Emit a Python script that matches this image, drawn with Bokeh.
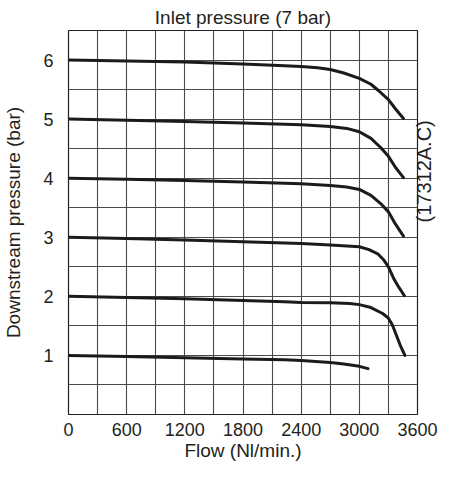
import numpy as np
from bokeh.plotting import figure
from bokeh.models import FixedTicker, Range1d, LinearAxis
from bokeh.embed import file_html
from bokeh.resources import INLINE

# Curves for inlet pressure 7 bar, set pressures 6..1 bar
flow_6 = [0, 600, 1200, 1800, 2230, 2400, 2570, 2700, 2840, 3000, 3120, 3200, 3300, 3370, 3455]
pres_6 = [6.0, 5.985, 5.965, 5.935, 5.905, 5.89, 5.87, 5.84, 5.78, 5.69, 5.59, 5.48, 5.33, 5.18, 5.01]

flow_5 = [0, 600, 1200, 1800, 2230, 2400, 2700, 2870, 3000, 3120, 3220, 3300, 3370, 3455]
pres_5 = [5.0, 4.98, 4.96, 4.935, 4.915, 4.905, 4.876, 4.843, 4.787, 4.674, 4.52, 4.37, 4.19, 4.01]

flow_4 = [0, 600, 1200, 1800, 2230, 2400, 2700, 2870, 3000, 3120, 3220, 3300, 3370, 3455]
pres_4 = [4.0, 3.98, 3.96, 3.935, 3.915, 3.905, 3.876, 3.85, 3.81, 3.71, 3.57, 3.43, 3.23, 3.02]

flow_3 = [0, 600, 1200, 1800, 2230, 2400, 2700, 3000, 3100, 3190, 3255, 3300, 3355, 3405, 3465]
pres_3 = [3.0, 2.98, 2.955, 2.925, 2.905, 2.894, 2.87, 2.84, 2.79, 2.72, 2.61, 2.5, 2.3, 2.16, 2.01]

flow_2 = [0, 600, 1200, 1800, 2230, 2400, 2700, 2900, 3000, 3120, 3240, 3300, 3340, 3380, 3420, 3470]
pres_2 = [2.0, 1.98, 1.96, 1.93, 1.908, 1.896, 1.89, 1.88, 1.86, 1.81, 1.71, 1.63, 1.52, 1.35, 1.18, 1.0]

flow_1 = [0, 600, 1200, 1800, 2230, 2400, 2700, 2840, 3000, 3090]
pres_1 = [1.0, 0.98, 0.96, 0.94, 0.927, 0.916, 0.88, 0.855, 0.815, 0.776]

curves = [(flow_6, pres_6), (flow_5, pres_5), (flow_4, pres_4),
          (flow_3, pres_3), (flow_2, pres_2), (flow_1, pres_1)]

x_ticks = [0, 600, 1200, 1800, 2400, 3000, 3600]
y_ticks = [1, 2, 3, 4, 5, 6]
x_grid = list(range(0, 3601, 300))
y_grid = [i * 0.5 for i in range(0, 14)]

title_text = "Inlet pressure (7 bar)"
x_label = "Flow (Nl/min.)"
y_label = "Downstream pressure (bar)"
side_note = "(17312A.C)"

FONT = "Liberation Sans"
TXT = "#231f20"

p = figure(width=448, height=463, output_backend="svg", toolbar_location=None,
           x_range=Range1d(0, 3600), y_range=Range1d(0, 6.5),
           min_border_left=61, min_border_right=0, min_border_top=30, min_border_bottom=40)

p.title.text = title_text
p.title.align = "center"
p.title.text_font = FONT
p.title.text_font_size = "19px"
p.title.text_font_style = "normal"
p.title.text_color = TXT
p.title.standoff = 6

p.outline_line_color = "#231f20"
p.outline_line_width = 1.2

rax = LinearAxis(ticker=FixedTicker(ticks=[]), axis_label=side_note)
p.add_layout(rax, "right")

for ax in (p.xaxis[0], p.yaxis[0], rax):
    ax.major_tick_line_color = None
    ax.minor_tick_line_color = None
    ax.axis_line_color = None
    ax.major_label_text_font = FONT
    ax.major_label_text_font_size = "18px"
    ax.major_label_text_color = TXT
    ax.axis_label_text_font = FONT
    ax.axis_label_text_font_size = "19px"
    ax.axis_label_text_font_style = "normal"
    ax.axis_label_text_color = TXT

rax.major_label_text_font_size = "0px"
rax.major_label_standoff = 0
rax.axis_label_standoff = 6
rax.axis_label_text_font_size = "20px"
if "axis_label_orientation" in LinearAxis.properties():
    rax.axis_label_orientation = np.pi / 2

p.xaxis[0].ticker = FixedTicker(ticks=x_ticks)
p.yaxis[0].ticker = FixedTicker(ticks=y_ticks)
p.xaxis[0].axis_label = x_label
p.yaxis[0].axis_label = y_label
p.xaxis[0].major_label_standoff = 2
p.yaxis[0].major_label_standoff = 9
p.xaxis[0].axis_label_standoff = 1
p.yaxis[0].axis_label_standoff = 16

p.xgrid.ticker = FixedTicker(ticks=x_grid)
p.ygrid.ticker = FixedTicker(ticks=y_grid)
for g in (p.xgrid, p.ygrid):
    g.grid_line_color = "#4a4a4a"
    g.grid_line_width = 1.1

for fx, py in curves:
    p.line(fx, py, line_color="#1d1a1b", line_width=3, line_join="round", line_cap="round")

open("out.html", "w").write(file_html(p, INLINE))
